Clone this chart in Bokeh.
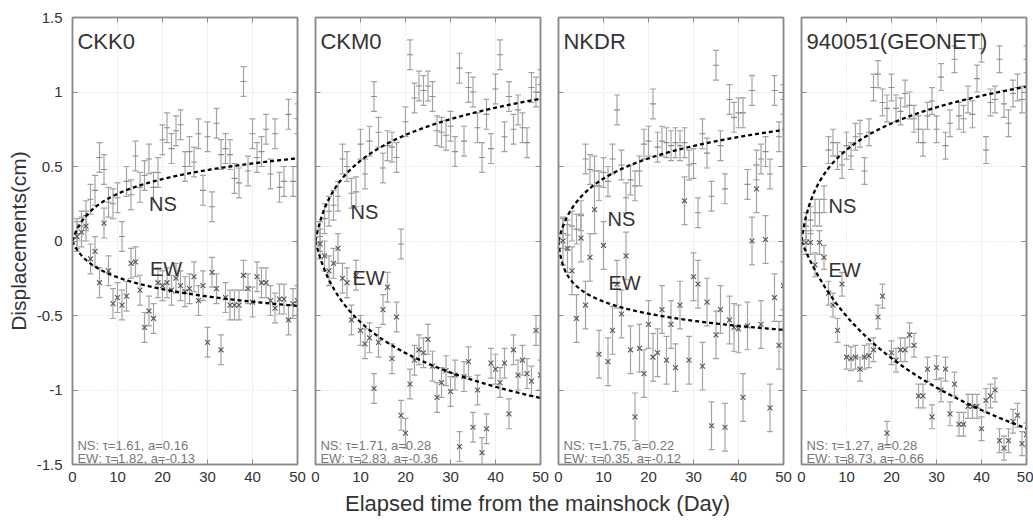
import numpy as np
from bokeh.plotting import figure
from bokeh.models import Label, LinearAxis, FixedTicker, Range1d, Div, ColumnDataSource
from bokeh.layouts import row, column
from bokeh.embed import file_html
from bokeh.resources import INLINE

# ---------------- data ----------------
days = list(range(1, 51))
stations = ["CKK0", "CKM0", "NKDR", "940051(GEONET)"]
ns_tau = [1.61, 1.71, 1.75, 1.27]
ns_a = [0.16, 0.28, 0.22, 0.28]
ew_tau = [1.82, 2.83, 0.35, 8.73]
ew_a = [-0.13, -0.36, -0.12, -0.66]
ns_err = [0.10, 0.10, 0.10, 0.09]
ew_err = [0.10, 0.10, 0.16, 0.08]

ckk0_ns = [0.05, 0.10, 0.17, 0.28, 0.34, 0.56, 0.48, 0.26, 0.25, 0.29,
           0.03, 0.40, 0.31, 0.57, 0.36, 0.44, 0.55, 0.36, 0.46, 0.68,
           0.76, 0.62, 0.74, 0.78, 0.50, 0.60, 0.53, 0.72, 0.34, 0.70,
           0.23, 0.79, 0.58, 0.62, 0.58, 0.42, 0.39, 1.07, 0.47, 0.72,
           0.56, 0.60, 0.75, 0.45, 0.72, 0.36, 0.40, 0.85, 0.40, 0.82]
ckk0_ew = [0.03, 0.06, 0.10, -0.12, -0.07, -0.28, 0.12, -0.20, -0.42, -0.38,
           -0.43, -0.37, -0.15, -0.14, -0.33, -0.58, -0.47, -0.52, -0.28, -0.30,
           -0.28, -0.33, -0.25, -0.30, -0.34, -0.32, -0.24, -0.40, -0.30, -0.68,
           -0.21, -0.32, -0.73, -0.38, -0.43, -0.43, -0.43, -0.23, -0.32, -0.41,
           -0.24, -0.28, -0.28, -0.40, -0.45, -0.39, -0.39, -0.53, -0.42, -0.40]
ckm0_ns = [0.03, 0.15, 0.20, 0.24, 0.30, 0.55, 0.50, 0.32, 0.33, 0.65,
           0.45, 0.67, 0.97, 0.73, 0.49, 0.64, 0.63, 0.56, -0.02, 0.80,
           1.25, 0.96, 1.04, 1.01, 1.04, 0.97, 0.74, 0.73, 0.71, 0.77,
           0.60, 1.16, 0.67, 1.03, 1.00, 0.76, 0.56, 0.85, 0.62, 1.02,
           1.25, 0.70, 0.97, 0.75, 0.88, 0.76, 0.66, 1.03, 1.00, 1.05]
ckm0_ew = [-0.02, -0.10, -0.20, -0.15, -0.05, -0.25, -0.28, -0.53, -0.23, -0.60,
           -0.69, -0.65, -0.99, -0.68, -0.46, -0.31, -0.79, -0.51, -1.17, -1.29,
           -0.96, -0.80, -0.73, -0.75, -0.66, -0.84, -1.05, -0.95, -0.87, -1.01,
           -0.90, -1.38, -0.91, -0.81, -1.25, -1.00, -1.42, -1.26, -0.82, -0.86,
           -0.95, -0.82, -1.16, -0.73, -0.90, -0.80, -0.89, -0.94, -0.60, -0.90]
nkdr_ns = [0.05, 0.04, 0.10, 0.08, 0.17, 0.55, 0.48, 0.47, 0.37, 0.46,
           0.40, 0.55, 0.88, 0.51, 0.29, 0.41, 0.37, 0.47, 0.65, 0.67,
           0.92, 0.63, 0.67, 0.66, 0.64, 0.66, 0.64, 0.66, 0.51, 0.52,
           0.19, 0.72, 0.59, 0.30, 1.18, 0.64, 0.35, 0.95, 0.83, 0.86,
           0.86, 0.38, 1.01, 0.51, 0.55, 0.60, 0.45, 1.01, 0.70, 0.95]
nkdr_ew = [0.00, -0.05, -0.20, -0.52, 0.02, -0.43, -0.11, 0.21, -0.76, -0.03,
           -0.81, -0.60, -0.29, -0.49, -0.10, -0.73, -1.18, -0.72, -0.89, -0.56,
           -0.78, -0.75, -0.46, -0.80, -0.56, -0.85, -0.43, 0.27, -0.80, -0.24,
           -0.29, -0.84, -0.41, -1.24, -0.63, -0.46, -1.25, -0.53, -0.58, -0.59,
           -1.05, -0.57, 0.00, 0.35, -0.56, 0.01, -1.12, -0.38, -0.70, -0.30]
geonet_ns = [0.10, 0.14, 0.19, 0.19, 0.28, 0.61, 0.66, 0.57, 0.51, 0.64,
             0.57, 0.70, 0.72, 0.47, 0.73, 1.03, 1.12, 0.93, 0.89, 1.03,
             0.89, 0.87, 0.99, 0.91, 0.82, 0.75, 0.66, 0.84, 0.94, 0.75,
             1.10, 0.64, 0.79, 1.22, 0.84, 0.82, 0.95, 0.85, 1.09, 1.29,
             0.61, 0.93, 0.95, 1.22, 0.92, 0.79, 0.99, 1.03, 0.95, 1.22]
geonet_ew = [-0.01, -0.01, -0.16, -0.01, -0.11, -0.35, -0.43, -0.60, -0.29, -0.78,
             -0.79, -0.78, -0.86, -0.78, -0.77, -0.73, -0.51, -0.37, -1.29, -0.75,
             -0.80, -0.73, -0.73, -0.63, -0.70, -1.04, -1.04, -0.86, -1.18, -0.85,
             -1.00, -0.86, -1.16, -0.96, -1.23, -1.23, -1.11, -1.11, -1.11, -1.26,
             -1.07, -1.04, -1.00, -1.34, -1.39, -1.34, -1.21, -1.17, -1.36, -1.30]

panel_ns = [ckk0_ns, ckm0_ns, nkdr_ns, geonet_ns]
panel_ew = [ckk0_ew, ckm0_ew, nkdr_ew, geonet_ew]

x_ticks = [0, 10, 20, 30, 40, 50]
y_ticks = [-1.5, -1, -0.5, 0, 0.5, 1, 1.5]
y_tick_labels = ["-1.5", "-1", "-0.5", "0", "0.5", "1", "1.5"]

# label placements (data units)
ns_label_pos = [(17.0, 0.245), (7.8, 0.195), (10.9, 0.15), (6.0, 0.238)]
ew_label_pos = [(17.2, -0.19), (8.2, -0.245), (11.1, -0.285), (6.0, -0.195)]

FONT = "Liberation Sans"
AX = "#8a8a8a"
BAR = "#a3a3a3"


def style_axis(ax, ticks, show_labels, overrides=None):
    ax.ticker = FixedTicker(ticks=ticks)
    ax.major_tick_in = 5
    ax.major_tick_out = 0
    ax.minor_tick_in = 0
    ax.minor_tick_out = 0
    ax.axis_line_color = AX
    ax.axis_line_width = 1.5
    ax.major_tick_line_color = AX
    ax.major_tick_line_width = 1
    ax.major_label_text_font = FONT
    ax.major_label_text_font_size = "15px"
    ax.major_label_text_color = "#333333"
    if show_labels:
        if overrides:
            ax.major_label_overrides = overrides
    else:
        ax.major_label_overrides = {t: "" for t in ticks}
        ax.major_label_standoff = 0


def make_panel(i):
    first = i == 0
    last = i == 3
    p = figure(frame_width=225, frame_height=447,
               x_range=Range1d(0, 50), y_range=Range1d(-1.5, 1.5),
               output_backend="svg", toolbar_location=None,
               min_border_left=72 if first else 9,
               min_border_right=7 if last else 9,
               min_border_top=17, min_border_bottom=26,
               background_fill_color="white", border_fill_color="white")
    p.outline_line_color = AX
    p.outline_line_width = 1.5

    style_axis(p.xaxis[0], x_ticks, True)
    p.xaxis[0].major_label_standoff = 7
    if first:
        style_axis(p.yaxis[0], y_ticks, True, dict(zip(y_ticks, y_tick_labels)))
        p.yaxis[0].major_label_standoff = 10
        p.yaxis[0].axis_label = "Displacements(cm)"
        p.yaxis[0].axis_label_text_font = FONT
        p.yaxis[0].axis_label_text_font_size = "21px"
        p.yaxis[0].axis_label_text_font_style = "normal"
        p.yaxis[0].axis_label_text_color = "#333333"
        p.yaxis[0].axis_label_standoff = 4
    else:
        style_axis(p.yaxis[0], y_ticks, False)

    top = LinearAxis()
    style_axis(top, x_ticks, False)
    p.add_layout(top, "above")
    right = LinearAxis()
    style_axis(right, y_ticks, False)
    p.add_layout(right, "right")

    for g, t in ((p.xgrid[0], x_ticks), (p.ygrid[0], y_ticks)):
        g.ticker = FixedTicker(ticks=t)
        g.grid_line_color = "#d6d6d6"
        g.grid_line_dash = "1 2"
        g.grid_line_width = 1

    ns = np.array(panel_ns[i])
    ew = np.array(panel_ew[i])
    t = np.array(days, dtype=float)

    for vals, err, marker, mcol in ((ns, ns_err[i], "dash", "#8c8c8c"),
                                    (ew, ew_err[i], "x", "#555555")):
        src = ColumnDataSource(dict(t=t, v=vals, lo=vals - err, hi=vals + err))
        p.segment(x0="t", y0="lo", x1="t", y1="hi", source=src,
                  line_color=BAR, line_width=1.2)
        p.scatter(x="t", y="lo", source=src, marker="dash", size=6,
                  line_color=BAR, line_width=1.2)
        p.scatter(x="t", y="hi", source=src, marker="dash", size=6,
                  line_color=BAR, line_width=1.2)
        p.scatter(x="t", y="v", source=src, marker=marker,
                  size=6 if marker == "dash" else 7,
                  line_color=mcol, line_width=1.1)

    tt = np.linspace(0, 50, 1001)
    p.line(tt, ns_a[i] * np.log1p(tt / ns_tau[i]), line_color="black",
           line_width=2.3, line_dash="4 3")
    p.line(tt, ew_a[i] * np.log1p(tt / ew_tau[i]), line_color="black",
           line_width=2.3, line_dash="4 3")

    p.add_layout(Label(x=1.1, y=1.34, text=stations[i], text_font=FONT,
                       text_font_size="22px", text_color="#333333",
                       text_baseline="alphabetic"))
    p.add_layout(Label(x=ns_label_pos[i][0], y=ns_label_pos[i][1], text="NS",
                       text_font=FONT, text_font_size="20px", text_color="#333333",
                       text_baseline="alphabetic"))
    p.add_layout(Label(x=ew_label_pos[i][0], y=ew_label_pos[i][1], text="EW",
                       text_font=FONT, text_font_size="20px", text_color="#333333",
                       text_baseline="alphabetic"))
    p.add_layout(Label(x=1.1, y=-1.372,
                       text=f"NS: \u03c4={ns_tau[i]:.2f}, a={ns_a[i]:.2f}",
                       text_font=FONT, text_font_size="13px", text_color="#777777",
                       text_baseline="alphabetic"))
    p.add_layout(Label(x=1.1, y=-1.46,
                       text=f"EW: \u03c4={ew_tau[i]:.2f}, a={ew_a[i]:.2f}",
                       text_font=FONT, text_font_size="13px", text_color="#777777",
                       text_baseline="alphabetic"))
    return p


panels = [make_panel(i) for i in range(4)]
xlabel = Div(text="Elapsed time from the mainshock (Day)", width=688, height=32,
             margin=(0, 0, 0, 345),
             styles={"font-family": FONT, "font-size": "22px", "color": "#333333",
                     "line-height": "28px", "white-space": "nowrap"})
layout = column(row(*panels, spacing=0), xlabel, spacing=0)

open("out.html", "w").write(file_html(layout, INLINE))
